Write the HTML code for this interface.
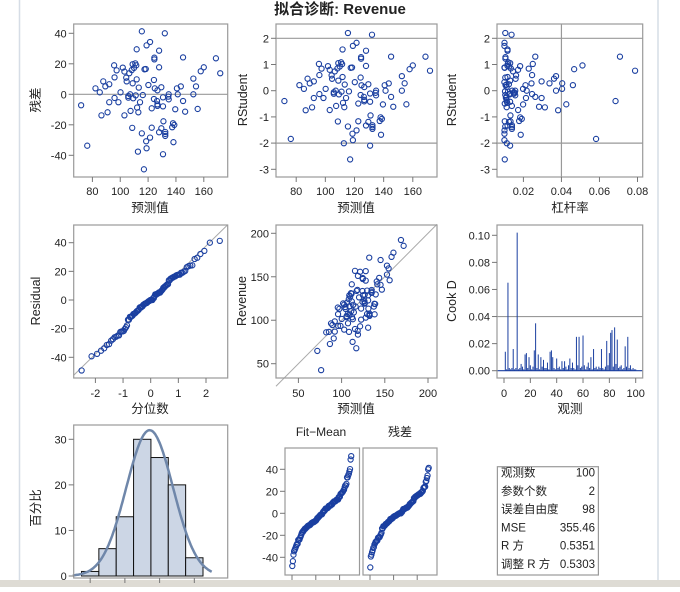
<!DOCTYPE html>
<html><head><meta charset="utf-8">
<style>
html,body{margin:0;padding:0;background:#fff;}
body{width:680px;height:587px;overflow:hidden;position:relative;font-family:"Liberation Sans","Noto Sans CJK SC",sans-serif;}
svg text{font-family:"Liberation Sans","Noto Sans CJK SC",sans-serif;fill:#222;}
</style></head>
<body>
<svg id="chart" width="680" height="587" viewBox="0 0 680 587" xmlns="http://www.w3.org/2000/svg">
<rect x="0" y="0" width="680" height="587" fill="#fff"/>
<line x1="19.5" y1="0" x2="19.5" y2="587" stroke="#d6dde6" stroke-width="1.5"/>
<line x1="658" y1="0" x2="658" y2="587" stroke="#d6dde6" stroke-width="1.5"/>
<rect x="0" y="580" width="680" height="7" fill="#dedbd4"/>
<text x="340" y="14" text-anchor="middle" font-size="15" font-weight="bold">拟合诊断: Revenue</text>
</svg>
<script>
// ---- data ----
const predicted = [71.9,76.3,82.2,85.3,86.5,87.8,89.3,90.9,92.1,92.1,95.6,95.9,95.9,97.4,98.7,100.2,101.8,103,103,104.3,104.6,105.8,105.8,106.5,107.1,107.4,108.3,108.6,108.9,108.9,109.3,109.9,110.8,111.1,111.8,111.5,111.8,112.1,112.7,113,113.3,114.2,115.5,115.5,117.4,117,118.3,118.6,118.9,118.9,120.2,121.4,121.4,122.6,122.6,124.2,124.2,124.5,124.5,124.8,126.4,126.7,126.7,126.7,127.9,127.9,127.9,129.5,129.5,130.7,130.7,131,130.7,132,132.3,132.3,132.3,134.5,134.8,134.8,137.3,137.9,138.2,138.8,139.5,140.7,141.3,143.5,145.1,145.1,146.6,152.5,152.5,154.4,155.6,157.8,160,168.7,171.8,116.2];
const residuals = [-7.2,-33.7,3.9,1.3,-13.8,8.5,5.2,-11.8,-5.2,6.6,19,11.1,-2.4,15.7,-5.2,1.3,17.5,-13.8,14.9,10.9,8.5,-1.1,-2.2,13.8,0,-10.9,15.9,-22,7.2,19.7,-2.6,17.3,20.3,-0.7,9.8,19,29.5,-8.7,-37.6,-11.8,4.4,-5.2,41.3,-25.6,16.4,-49.2,16.6,-30.8,-35.4,32.1,6.1,34.3,-28.4,-21.9,-9.2,9.4,-3.1,22.9,24,3.9,-4.4,-6.6,-7.6,2.6,28.6,17.7,-24.9,4.6,-22.3,-2,-7.9,-17.7,-39.3,40,-24.7,-27.3,-26,-1.5,0,-3.3,-21.6,-19,-31.4,-20.1,-9.8,3.9,0,5.2,-4.4,24.2,-11.4,10.3,0,5.2,-9.6,15.1,17.7,23.6,13.8,-0.5];
const cookD = [0.014,0.001,0.065,0.002,0.001,0.002,0.016,0.001,0.002,0.102,0.001,0.002,0.005,0.003,0.001,0.012,0.013,0.002,0.010,0.004,0.001,0.003,0.015,0.035,0.002,0.012,0.001,0.010,0.003,0.008,0.002,0.002,0.006,0.001,0.014,0.015,0.010,0.002,0.001,0.009,0.002,0.003,0.001,0.007,0.002,0.007,0.003,0.001,0.004,0.009,0.002,0.006,0.002,0.001,0.025,0.004,0.025,0.002,0.003,0.026,0.004,0.001,0.003,0.006,0.002,0.010,0.001,0.016,0.002,0.003,0.001,0.003,0.002,0.016,0.002,0.001,0.003,0.022,0.004,0.013,0.028,0.030,0.003,0.032,0.005,0.023,0.002,0.003,0.004,0.001,0.002,0.018,0.003,0.025,0.002,0.004,0.001,0.002,0.001,0.001];
const histCounts = [1,6,13,30,26,20,4];
const histEdges = [-52.5,-37.5,-22.5,-7.5,7.5,22.5,37.5,52.5];
const histTicks = [-45,-15,15,45];
const normalMean = 6.4, normalSD = 20.2, normalPeak = 32;
const statsLabels = ["观测数","参数个数","误差自由度","MSE","R 方","调整 R 方"];
const statsValues = ["100","2","98","355.46","0.5351","0.5303"];
const mse = 355.46;

const NS="http://www.w3.org/2000/svg";
const svg=document.getElementById('chart');
const BLUE="#1a3fa0";
function el(tag,attrs,parent){const e=document.createElementNS(NS,tag);for(const k in attrs)e.setAttribute(k,attrs[k]);(parent||svg).appendChild(e);return e;}
function lin(d0,d1,p0,p1){return v=>p0+(v-d0)*(p1-p0)/(d1-d0);}
function txt(x,y,s,size,anchor,parent,rot){const t=el('text',{x:x,y:y,'font-size':size,'text-anchor':anchor||'middle'},parent);if(rot)t.setAttribute('transform','rotate(-90 '+x+' '+y+')');t.textContent=s;return t;}

function panel(name){
  const g=el('g',{});
  
  
  return g;
}
function frame(g,x0,x1,y0,y1){
  const r=el('rect',{x:x0,y:y0,width:x1-x0,height:y1-y0,fill:'none',stroke:'#9a9a9a','stroke-width':1.2},g);
  
  
}
function xAxis(g,ticks,sx,y1,fmt,labelY){
  const ax=el('g',{},g);
  
  
  ticks.forEach(v=>{const x=sx(v);el('line',{x1:x,y1:y1,x2:x,y2:y1+5,stroke:'#777'},ax);
    if(fmt){const t=txt(x,labelY,fmt(v),11,'middle',ax);}});
}
function yAxis(g,ticks,sy,x0,fmt){
  const ax=el('g',{},g);
  
  
  ticks.forEach(v=>{const y=sy(v);el('line',{x1:x0-5,y1:y,x2:x0,y2:y,stroke:'#777'},ax);
    const t=txt(x0-7,y+4,fmt(v),11,'end',ax);});
}
function axisTitle(g,x,y,s,rot,name){const t=txt(x,y,s,12.5,'middle',g,rot);}
function marker(g,x,y){const c=el('circle',{cx:x,cy:y,r:2.6,fill:'none',stroke:BLUE,'stroke-width':1.1},g);
  
  }
function hline(g,y,x0,x1){el('line',{x1:x0,y1:y,x2:x1,y2:y,stroke:'#999','stroke-width':1.2},g);}
const f0=v=>String(v);
const neg=v=>v<0?'-'+Math.abs(v):String(v);

const n=predicted.length;
const meanPred=predicted.reduce((a,b)=>a+b,0)/n;
const sxx=predicted.reduce((a,b)=>a+(b-meanPred)**2,0);
const leverage=predicted.map(p=>1/n+(p-meanPred)**2/sxx);
const rstudent=residuals.map((r,i)=>r/(Math.sqrt(mse)*Math.sqrt(1-leverage[i])));

// Panel 1
(function(){const g=panel('residual-vs-predicted');const X0=73.7,X1=227.7,Y0=24,Y1=177;
 const sx=lin(80,160,92.4,203.8),sy=lin(40,-40,33.3,155.3);
 hline(g,sy(0),X0,X1);frame(g,X0,X1,Y0,Y1);
 predicted.forEach((p,i)=>marker(g,sx(p),sy(residuals[i])));
 xAxis(g,[80,100,120,140,160],sx,Y1,f0,195);yAxis(g,[-40,-20,0,20,40],sy,X0,neg);
 axisTitle(g,150,212,'预测值',false,'x-axis-title');axisTitle(g,40,100,'残差',true,'y-axis-title');})();

// Panel 2
(function(){const g=panel('rstudent-vs-predicted');const X0=276,X1=437,Y0=24,Y1=177;
 const sx=lin(80,160,296.2,412.8),sy=lin(2,-3,38.3,169.3);
 hline(g,sy(2),X0,X1);hline(g,sy(-2),X0,X1);frame(g,X0,X1,Y0,Y1);
 predicted.forEach((p,i)=>marker(g,sx(p),sy(rstudent[i])));
 xAxis(g,[80,100,120,140,160],sx,Y1,f0,195);yAxis(g,[-3,-2,-1,0,1,2],sy,X0,neg);
 axisTitle(g,356,212,'预测值',false,'x-axis-title');axisTitle(g,247,100,'RStudent',true,'y-axis-title');})();

// Panel 3
(function(){const g=panel('rstudent-vs-leverage');const X0=497,X1=642.7,Y0=24,Y1=177;
 const sx=lin(0.02,0.08,523.4,637.5),sy=lin(2,-3,38.3,169.3);
 hline(g,sy(2),X0,X1);hline(g,sy(-2),X0,X1);
 el('line',{x1:sx(0.04),y1:Y0,x2:sx(0.04),y2:Y1,stroke:'#999','stroke-width':1.2},g);
 frame(g,X0,X1,Y0,Y1);
 leverage.forEach((h,i)=>marker(g,sx(h),sy(rstudent[i])));
 xAxis(g,[0.02,0.04,0.06,0.08],sx,Y1,v=>v.toFixed(2),195);yAxis(g,[-3,-2,-1,0,1,2],sy,X0,neg);
 axisTitle(g,570,212,'杠杆率',false,'x-axis-title');axisTitle(g,456,100,'RStudent',true,'y-axis-title');})();

function invNorm(p){const a=[-39.6968302866538,220.946098424521,-275.928510446969,138.357751867269,-30.6647980661472,2.50662827745924],b=[-54.4760987982241,161.585836858041,-155.698979859887,66.8013118877197,-13.2806815528857],c=[-0.00778489400243029,-0.322396458041136,-2.40075827716184,-2.54973253934373,4.37466414146497,2.93816398269878],d=[0.00778469570904146,0.32246712907004,2.445134137143,3.75440866190742];
 const pl=0.02425;let q,r;if(p<pl){q=Math.sqrt(-2*Math.log(p));return(((((c[0]*q+c[1])*q+c[2])*q+c[3])*q+c[4])*q+c[5])/((((d[0]*q+d[1])*q+d[2])*q+d[3])*q+1);}
 if(p>1-pl){q=Math.sqrt(-2*Math.log(1-p));return-(((((c[0]*q+c[1])*q+c[2])*q+c[3])*q+c[4])*q+c[5])/((((d[0]*q+d[1])*q+d[2])*q+d[3])*q+1);}
 q=p-0.5;r=q*q;return(((((a[0]*r+a[1])*r+a[2])*r+a[3])*r+a[4])*r+a[5])*q/(((((b[0]*r+b[1])*r+b[2])*r+b[3])*r+b[4])*r+1);}

// Panel 4
(function(){const g=panel('residual-qq-plot');const X0=73.7,X1=227.7,Y0=225,Y1=378;
 const sx=lin(-2,2,95.4,206),sy=lin(40,-40,242.7,357.3);
 const s=Math.sqrt(mse);const qa=(X0-150.7)/27.65,qb=(X1-150.7)/27.65;
 el('line',{x1:X0,y1:sy(qa*s),x2:X1,y2:sy(qb*s),stroke:'#aaa','stroke-width':1},g);
 frame(g,X0,X1,Y0,Y1);
 const sorted=residuals.slice().sort((a,b)=>a-b);
 sorted.forEach((r,i)=>marker(g,sx(invNorm((i+1-0.375)/(n+0.25))),sy(r)));
 xAxis(g,[-2,-1,0,1,2],sx,Y1,neg,397);yAxis(g,[-40,-20,0,20,40],sy,X0,neg);
 axisTitle(g,150,413,'分位数',false,'x-axis-title');axisTitle(g,40,301,'Residual',true,'y-axis-title');})();

// Panel 5
(function(){const g=panel('observed-vs-predicted');const X0=276,X1=437,Y0=225,Y1=378;
 const sx=lin(50,200,298.4,428),sy=lin(200,50,233.3,363.7);
 const dA=50+(X0-298.4)/0.864, dB=50+(X1-298.4)/0.864;
 el('line',{x1:X0,y1:sy(dA),x2:X1,y2:sy(dB),stroke:'#aaa','stroke-width':1},g);
 frame(g,X0,X1,Y0,Y1);
 predicted.forEach((p,i)=>marker(g,sx(p),sy(p+residuals[i])));
 xAxis(g,[50,100,150,200],sx,Y1,f0,397);yAxis(g,[50,100,150,200],sy,X0,f0);
 axisTitle(g,356,413,'预测值',false,'x-axis-title');axisTitle(g,246,301,'Revenue',true,'y-axis-title');})();

// Panel 6
(function(){const g=panel('cooks-d-plot');const X0=497,X1=642.7,Y0=225,Y1=378;
 const sx=lin(0,100,504,635.7),sy=lin(0.1,0,235.3,370.7);
 hline(g,sy(0.04),X0,X1);
 cookD.forEach((d,i)=>{const l=el('line',{x1:sx(i+1),y1:sy(0),x2:sx(i+1),y2:sy(d),stroke:BLUE,'stroke-width':1},g);
  
  });
 el('line',{x1:X0,y1:sy(0),x2:X1,y2:sy(0),stroke:BLUE,'stroke-width':1.2},g);
 frame(g,X0,X1,Y0,Y1);
 xAxis(g,[0,20,40,60,80,100],sx,Y1,f0,397);yAxis(g,[0,0.02,0.04,0.06,0.08,0.1],sy,X0,v=>v.toFixed(2));
 axisTitle(g,570,413,'观测',false,'x-axis-title');axisTitle(g,456,301,'Cook D',true,'y-axis-title');})();

// Panel 7
(function(){const g=panel('residual-histogram');const X0=73.7,X1=227.7,Y0=425,Y1=578;
 const sx=lin(-52.5,52.5,81.5,203),sy=lin(30,0,439.3,576);
 histCounts.forEach((c,i)=>{const x=sx(histEdges[i]),w=sx(histEdges[i+1])-x;
  const r=el('rect',{x:x,y:sy(c),width:w,height:sy(0)-sy(c),fill:'#ccd6e5',stroke:'#111','stroke-width':1},g);
  
  });
 let d='';for(let v=-60;v<=60;v+=1){const y=normalPeak*Math.exp(-((v-normalMean)**2)/(2*normalSD*normalSD));d+=(d?'L':'M')+sx(v).toFixed(1)+' '+sy(y).toFixed(1);}
 const p=el('path',{d:d,fill:'none',stroke:'#6f87aa','stroke-width':2.5},g);
 
 
 frame(g,X0,X1,Y0,Y1);
 xAxis(g,histTicks,sx,Y1,null,0);yAxis(g,[0,10,20,30],sy,X0,f0);
 axisTitle(g,40,508,'百分比',true,'y-axis-title');})();

// Panel 8
(function(){const g=panel('residual-fit-spread-plot');const sy=lin(40,-40,469.3,557.3);
 const h1=txt(321,436,'Fit\u2212Mean',12,'middle',g);
 
 
 const h2=txt(400,436,'残差',12,'middle',g);
 
 
 const fitMean=predicted.map(p=>p-meanPred).sort((a,b)=>a-b);
 const res=residuals.slice().sort((a,b)=>a-b);
 [[285,359.5,fitMean],[363,437,res]].forEach(([X0,X1,vals])=>{
  const sx=lin(0,1,X0+7,X1-8);
  frame(g,X0,X1,448,575);
  vals.forEach((v,i)=>marker(g,sx((i+0.5)/vals.length),sy(v)));
  xAxis(g,[0,0.4,0.8],sx,575,null,0);});
 yAxis(g,[-40,-20,0,20,40],sy,285,neg);})();

// Stats table
(function(){const g=panel('fit-statistics-table');
 frame(g,497.4,598.4,466.7,575);
 statsLabels.forEach((s,i)=>{const y=476.5+i*18.3;
  const a=txt(501,y,s,11.5,'start',g);
  const b=txt(595,y,statsValues[i],11.5,'end',g);});})();
</script>
</body></html>
